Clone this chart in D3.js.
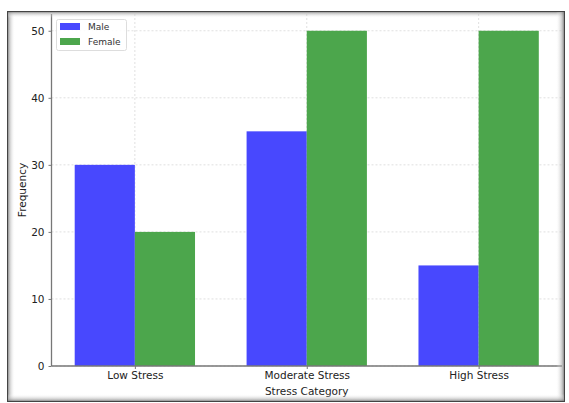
<!DOCTYPE html>
<html><head><meta charset="utf-8">
<script src="https://cdn.jsdelivr.net/npm/d3@7"></script>
<style>body{margin:0;background:#fff}svg{display:block}text{font-family:"DejaVu Sans",sans-serif}</style>
</head><body><svg id="c" width="569" height="403"></svg>
<script>
const categories = ["Low Stress", "Moderate Stress", "High Stress"];
const seriesNames = ["Male", "Female"];
const maleValues = [30, 35, 15];
const femaleValues = [20, 50, 50];
const yTicks = [0, 10, 20, 30, 40, 50];
const colors = {Male: "#4848fe", Female: "#4ca64c"};

const svg = d3.select("#c");
const L = 51.5, R = 562, T = 14, B = 366;
const x = d3.scalePoint().domain(categories).range([L, R]).padding(0.485);
const step = x.step();
const bw = 0.35 * step;
const y = d3.scaleLinear().domain([0, 52.5]).range([B, T]);

// grid
const g = svg.append("g");
g.selectAll(".hg").data(yTicks).join("line")
  .attr("x1", L).attr("x2", R).attr("y1", d => y(d)).attr("y2", d => y(d))
  .attr("stroke", "#d8d8d8").attr("stroke-width", 0.8).attr("stroke-dasharray", "2,2");
g.selectAll(".vg").data(categories).join("line")
  .attr("x1", d => x(d)).attr("x2", d => x(d)).attr("y1", T).attr("y2", B)
  .attr("stroke", "#d8d8d8").attr("stroke-width", 0.8).attr("stroke-dasharray", "2,2");

const series = [["Male", maleValues, -1], ["Female", femaleValues, 0]];
series.forEach(([name, vals, off]) => {
  svg.append("g").selectAll("rect").data(categories).join("rect")
    .attr("x", d => x(d) + off * bw)
    .attr("width", bw)
    .attr("y", (d, i) => y(vals[i]))
    .attr("height", (d, i) => y(0) - y(vals[i]))
    .attr("fill", colors[name]);
});

// axes
const ya = svg.append("g").attr("transform", `translate(${L},0)`)
  .call(d3.axisLeft(y).tickValues(yTicks).tickSize(3).tickPadding(4).tickFormat(d3.format("d")));
const xa = svg.append("g").attr("transform", `translate(0,${B})`)
  .call(d3.axisBottom(x).tickSize(3).tickPadding(3));
[ya, xa].forEach(a => {
  a.select(".domain").attr("stroke", "#777").attr("stroke-width", 1.3);
  a.selectAll(".tick line").attr("stroke", "#777");
  a.selectAll(".tick text").attr("fill", "#222").style("font-size", "10.5px").style("font-family", "DejaVu Sans");
});
xa.select(".domain").attr("d", `M${L},0H${R}`);
ya.select(".domain").attr("d", `M0,${B}V${T}`);

svg.append("text").attr("x", (L + R) / 2).attr("y", 395).attr("text-anchor", "middle")
  .attr("fill", "#222").style("font-size", "10.5px").text("Stress Category");
svg.append("text").attr("transform", `translate(26,190) rotate(-90)`).attr("text-anchor", "middle")
  .attr("fill", "#222").style("font-size", "10.5px").text("Frequency");

// legend
const lg = svg.append("g");
lg.append("rect").attr("x", 56.5).attr("y", 19.5).attr("width", 70).attr("height", 31).attr("rx", 2)
  .attr("fill", "#fff").attr("fill-opacity", 0.85).attr("stroke", "#ddd");
seriesNames.forEach((n, i) => {
  lg.append("rect").attr("x", 60).attr("y", 23 + i * 15).attr("width", 20).attr("height", 7).attr("fill", colors[n]);
  lg.append("text").attr("x", 88).attr("y", 30 + i * 15).attr("fill", "#333").style("font-size", "9px").text(n);
});

// frame with shadow
const defs = svg.append("defs");
function grad(id, x1, y1, x2, y2) {
  const gr = defs.append("linearGradient").attr("id", id).attr("x1", x1).attr("y1", y1).attr("x2", x2).attr("y2", y2);
  gr.append("stop").attr("offset", 0).attr("stop-color", "#555").attr("stop-opacity", 0.9);
  gr.append("stop").attr("offset", 0.35).attr("stop-color", "#aaa").attr("stop-opacity", 0.6);
  gr.append("stop").attr("offset", 1).attr("stop-color", "#fff").attr("stop-opacity", 0);
}
grad("gl", 0, 0, 1, 0); grad("gt", 0, 0, 0, 1); grad("gr", 1, 0, 0, 0); grad("gb", 0, 1, 0, 0);
const fx0 = 7, fy0 = 11, fx1 = 565, fy1 = 402;
svg.append("rect").attr("x", fx0).attr("y", fy0).attr("width", 8).attr("height", fy1 - fy0).attr("fill", "url(#gl)");
svg.append("rect").attr("x", fx0).attr("y", fy0).attr("width", fx1 - fx0).attr("height", 7).attr("fill", "url(#gt)");
svg.append("rect").attr("x", fx1 - 9).attr("y", fy0).attr("width", 9).attr("height", fy1 - fy0).attr("fill", "url(#gr)");
svg.append("rect").attr("x", fx0).attr("y", fy1 - 8).attr("width", fx1 - fx0).attr("height", 8).attr("fill", "url(#gb)");
svg.append("rect").attr("x", fx0 + 0.5).attr("y", fy0 + 0.5).attr("width", fx1 - fx0 - 1).attr("height", fy1 - fy0 - 1)
  .attr("fill", "none").attr("stroke", "#444").attr("stroke-width", 1);
</script></body></html>
